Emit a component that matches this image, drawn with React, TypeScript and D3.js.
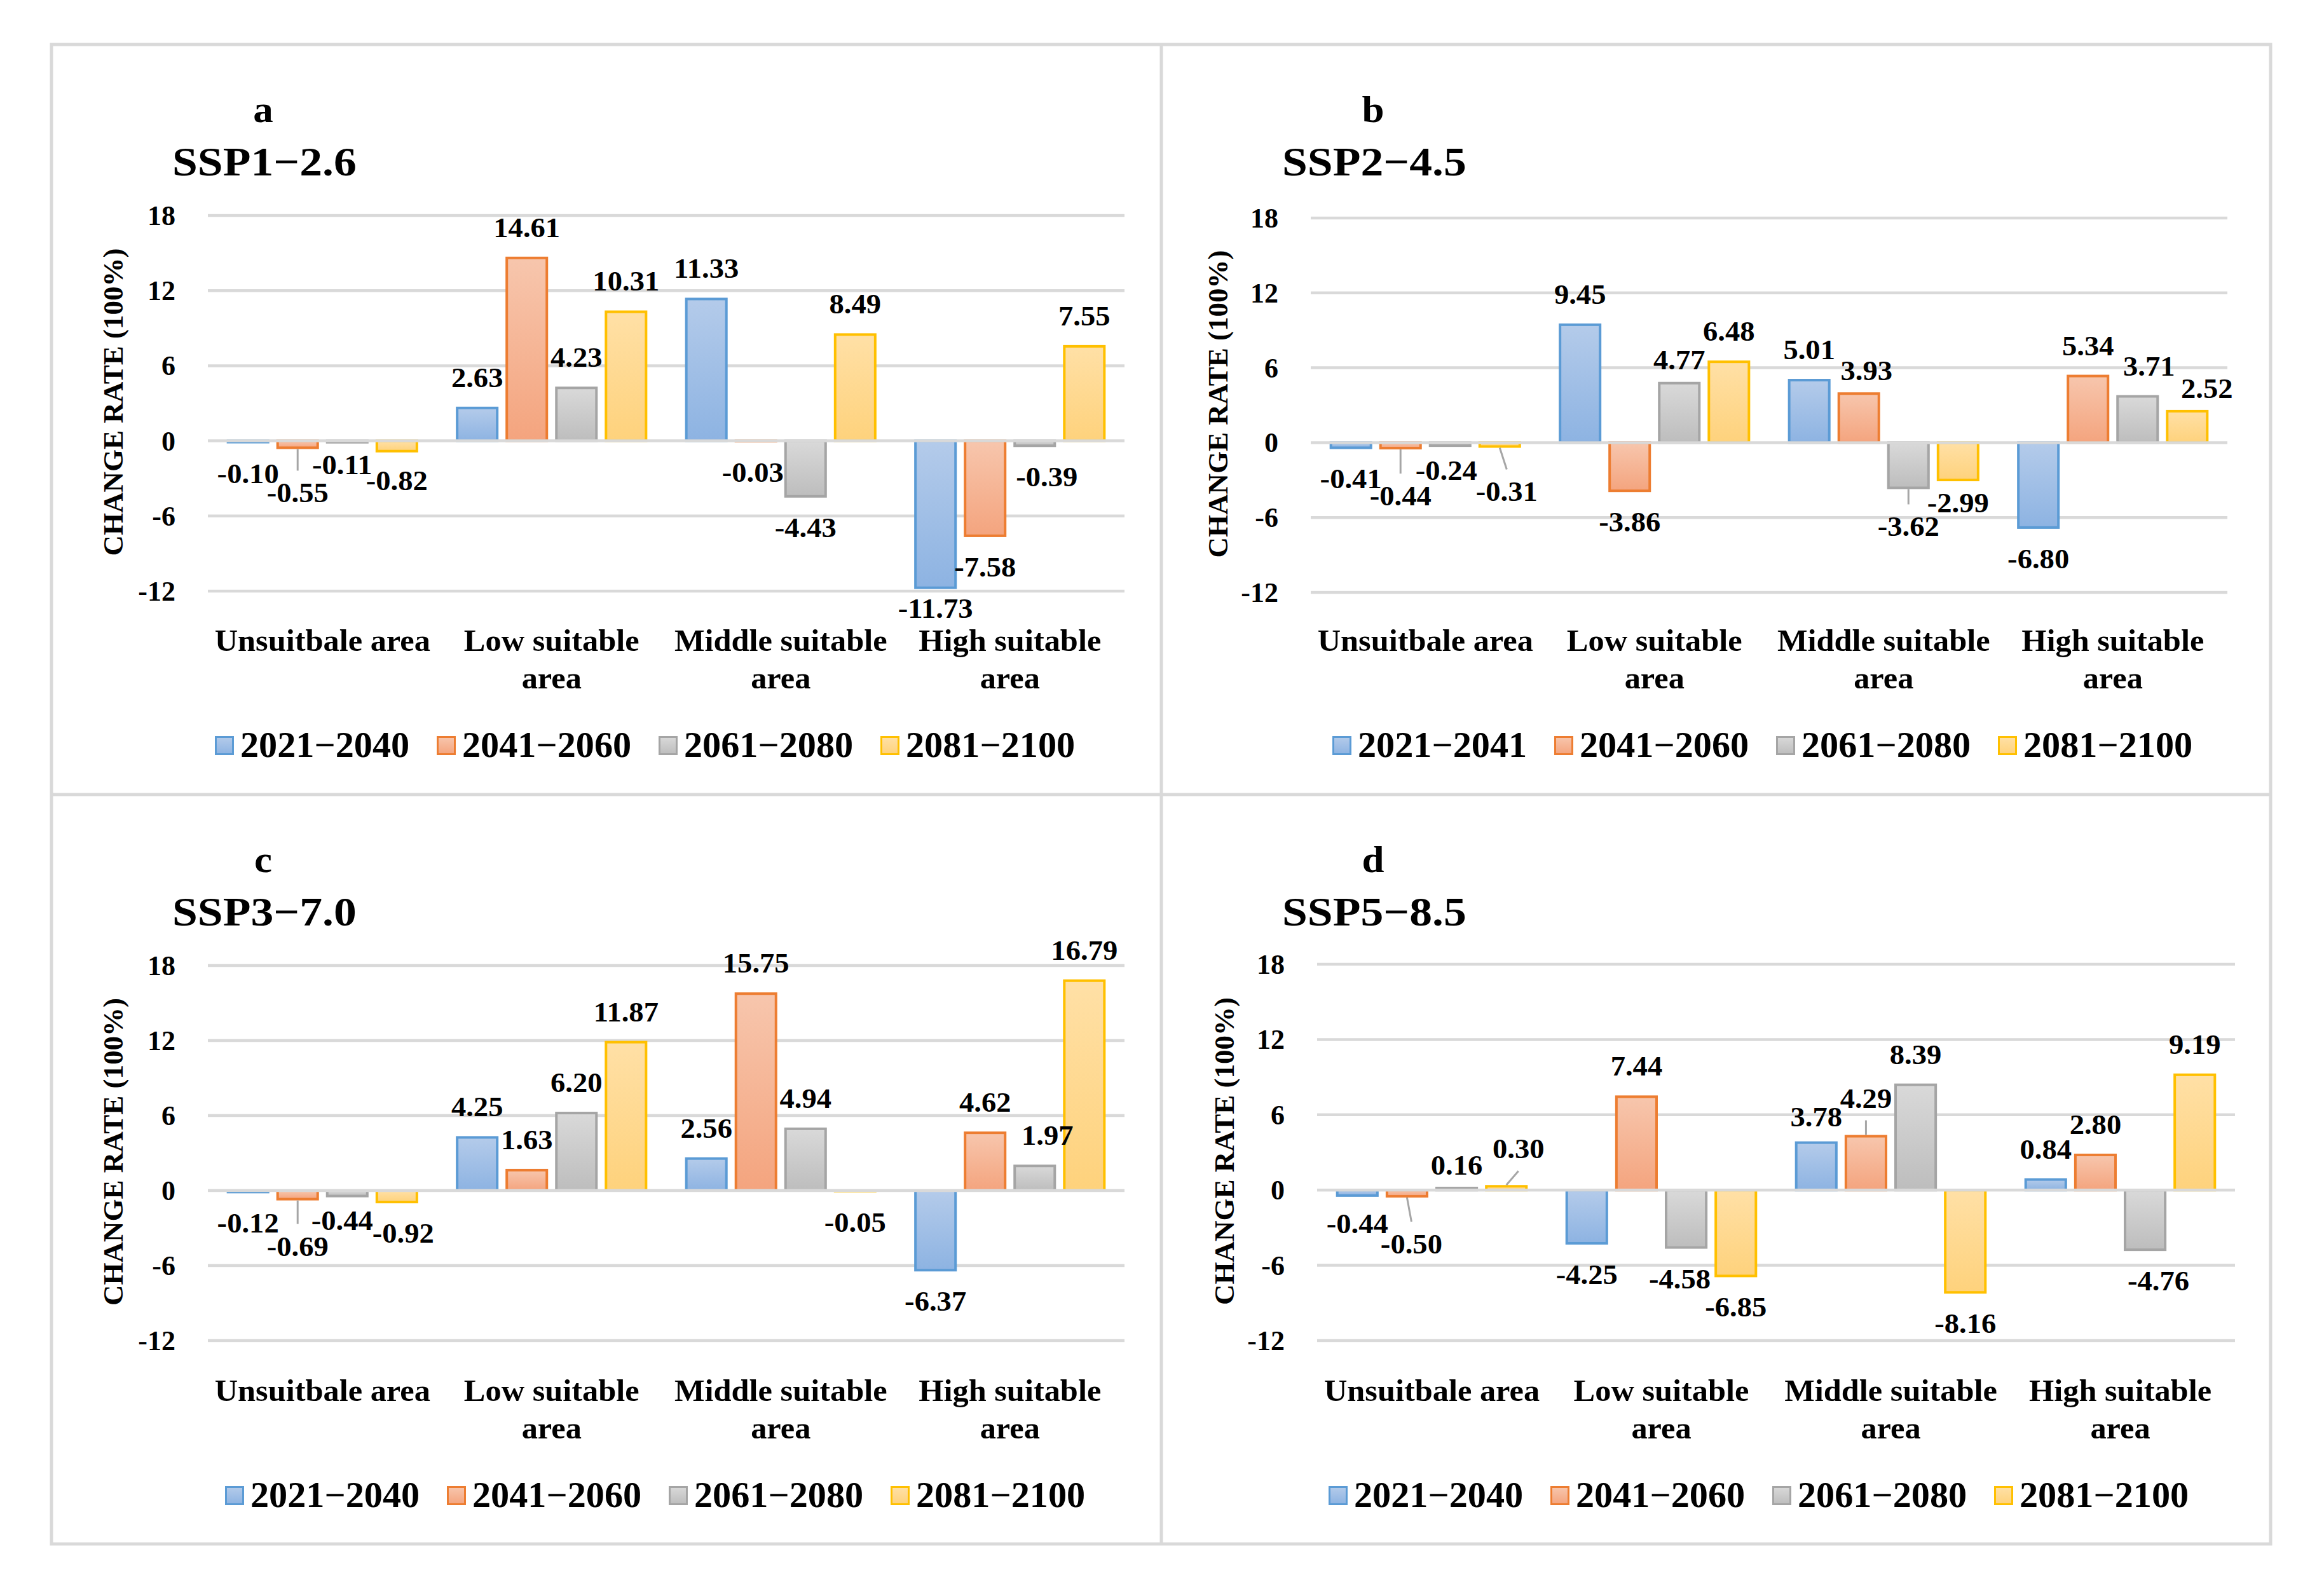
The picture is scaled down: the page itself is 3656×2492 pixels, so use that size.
import React from "react";
import * as d3 from "d3";

const W = 3656;
const H = 2492;

// ---------- data ----------
const categories = ["Unsuitbale area", "Low suitable area", "Middle suitable area", "High suitable area"];
const periods = ["2021−2040", "2041−2060", "2061−2080", "2081−2100"];
const periodsB = ["2021−2041", "2041−2060", "2061−2080", "2081−2100"];
const yTicks = [18, 12, 6, 0, -6, -12];
const panelLetters = ["a", "b", "c", "d"];
const scenarios = ["SSP1−2.6", "SSP2−4.5", "SSP3−7.0", "SSP5−8.5"];

// rows = categories, columns = periods
const ssp126 = [
  [-0.1, -0.55, -0.11, -0.82],
  [2.63, 14.61, 4.23, 10.31],
  [11.33, -0.03, -4.43, 8.49],
  [-11.73, -7.58, -0.39, 7.55],
];
const ssp245 = [
  [-0.41, -0.44, -0.24, -0.31],
  [9.45, -3.86, 4.77, 6.48],
  [5.01, 3.93, -3.62, -2.99],
  [-6.8, 5.34, 3.71, 2.52],
];
const ssp370 = [
  [-0.12, -0.69, -0.44, -0.92],
  [4.25, 1.63, 6.2, 11.87],
  [2.56, 15.75, 4.94, -0.05],
  [-6.37, 4.62, 1.97, 16.79],
];
const ssp585 = [
  [-0.44, -0.5, 0.16, 0.3],
  [-4.25, 7.44, -4.58, -6.85],
  [3.78, 4.29, 8.39, -8.16],
  [0.84, 2.8, -4.76, 9.19],
];

// ---------- styles / layout ----------
const FONT = "'Times New Roman', 'Liberation Serif', 'DejaVu Serif', serif";
const seriesColors = [
  { stroke: "#5b9bd5", top: "#b4cbea", bottom: "#8db3e2" },
  { stroke: "#ed7d31", top: "#f7c6ad", bottom: "#f4a47e" },
  { stroke: "#a5a5a5", top: "#d9d9d9", bottom: "#bdbdbd" },
  { stroke: "#ffc000", top: "#ffe0a6", bottom: "#fed27c" },
];
const GRID = "#d9d9d9";
const frame = { x0: 81, y0: 70, xm: 1827, ym: 1250, x1: 3572, y1: 2429 };
const panelOrigins = [
  [81, 70],
  [1827, 70],
  [81, 1250],
  [1827, 1250],
];
const plotBoxes = [
  { x0: 246, x1: 1688, yTop: 269, yBot: 860, yTitleX: 112 },
  { x0: 235, x1: 1677, yTop: 273, yBot: 862, yTitleX: 104 },
  { x0: 246, x1: 1688, yTop: 269, yBot: 859, yTitleX: 112 },
  { x0: 245, x1: 1689, yTop: 267, yBot: 859, yTitleX: 114 },
];
const legendStart = [257, 269, 273, 263];

// manual data-label nudges (panel-category-series): [dx, dy, leaderLine]
const labelAdjust: Record<string, number[]> = {
  "0-0-1": [0, 22, 1],
  "0-0-2": [-8, -14],
  "0-0-3": [0, -3],
  "0-2-1": [-5, 0],
  "0-3-0": [0, -17],
  "0-3-2": [19, 0],
  "1-0-1": [0, 26, 1],
  "1-0-2": [-6, -10],
  "1-0-3": [11, 22, 1],
  "1-1-2": [0, 11],
  "1-2-1": [12, 12],
  "1-2-2": [0, 12, 1],
  "1-2-3": [0, -13],
  "1-3-2": [18, 0],
  "1-3-3": [31, 12],
  "2-0-1": [0, 25, 1],
  "2-0-2": [-8, -11],
  "2-0-3": [10, 0],
  "2-3-2": [20, 0],
  "3-0-0": [0, -5],
  "3-0-1": [7, 26, 1],
  "3-0-2": [0, 12],
  "3-0-3": [19, -11, 1],
  "3-1-2": [-10, 0],
  "3-2-0": [0, 7],
  "3-2-1": [0, -12, 1],
  "3-3-2": [21, 0],
};

function T(props: {
  x: number;
  y: number;
  size: number;
  sx?: number;
  anchor?: string;
  children: React.ReactNode;
}) {
  const { x, y, size, sx = 1, anchor = "middle", children } = props;
  return (
    <text
      transform={`translate(${x},${y}) scale(${sx},1)`}
      fontSize={size}
      fontWeight="bold"
      fontFamily={FONT}
      textAnchor={anchor as any}
      fill="#000"
    >
      {children}
    </text>
  );
}

function splitLabel(c: string): string[] {
  if (c.length <= 15) return [c];
  const i = c.lastIndexOf(" ");
  return [c.slice(0, i), c.slice(i + 1)];
}

function Panel({ idx }: { idx: number }) {
  const data = [ssp126, ssp245, ssp370, ssp585][idx];
  const legend = idx === 1 ? periodsB : periods;
  const [ox, oy] = panelOrigins[idx];
  const box = plotBoxes[idx];

  const y = d3.scaleLinear().domain([-12, 18]).range([box.yBot, box.yTop]);
  const x0 = d3.scaleBand<string>().domain(categories).range([box.x0, box.x1]);
  const x1 = d3
    .scaleBand<number>()
    .domain(d3.range(4))
    .range([0, x0.bandwidth()])
    .paddingInner(0.141)
    .paddingOuter(0.38);
  const sw = 4;
  const bw = x1.bandwidth();

  const bars: React.ReactNode[] = [];
  const labels: React.ReactNode[] = [];
  const leaders: React.ReactNode[] = [];

  categories.forEach((c, ci) => {
    data[ci].forEach((v, si) => {
      const bx = (x0(c) as number) + (x1(si) as number);
      const cx = bx + bw / 2;
      const yv = y(v);
      const y0 = y(0);
      bars.push(
        <rect
          key={`b${ci}-${si}`}
          x={bx + sw / 2}
          width={bw - sw}
          y={Math.min(yv, y0)}
          height={Math.abs(yv - y0)}
          fill={`url(#grad${si})`}
          stroke={seriesColors[si].stroke}
          strokeWidth={sw}
        />
      );
      const adj = labelAdjust[`${idx}-${ci}-${si}`] || [0, 0];
      const lx = cx + adj[0];
      const base = (v >= 0 ? yv - 33 : yv + 64) + adj[1];
      labels.push(
        <T key={`l${ci}-${si}`} x={lx} y={base} size={44} sx={1.06}>
          {v.toFixed(2)}
        </T>
      );
      if (adj[2]) {
        const ly1 = v >= 0 ? yv - 2 : yv + 2;
        const ly2 = v >= 0 ? base + 20 : base - 50;
        leaders.push(
          <line key={`ld${ci}-${si}`} x1={cx} y1={ly1} x2={lx} y2={ly2} stroke="#a6a6a6" strokeWidth={3} />
        );
      }
    });
  });

  return (
    <g transform={`translate(${ox},${oy})`}>
      {/* panel letter and title */}
      <T x={333} y={122} size={60} sx={1.05}>
        {panelLetters[idx]}
      </T>
      <T x={190} y={206} size={64} sx={1.12} anchor="start">
        {scenarios[idx]}
      </T>
      {/* gridlines */}
      {yTicks
        .filter((t) => t !== 0)
        .map((t) => (
          <line key={`g${t}`} x1={box.x0} x2={box.x1} y1={y(t)} y2={y(t)} stroke={GRID} strokeWidth={4.5} />
        ))}
      {/* tick labels */}
      {yTicks.map((t) => (
        <T key={`t${t}`} x={box.x0 - 51} y={y(t) + 15} size={44} anchor="end">
          {String(t)}
        </T>
      ))}
      {/* y title */}
      <text
        transform={`translate(${box.yTitleX},${(box.yTop + box.yBot) / 2 - 2}) rotate(-90)`}
        fontSize={45}
        fontWeight="bold"
        fontFamily={FONT}
        textAnchor="middle"
        fill="#000"
      >
        CHANGE RATE (100%)
      </text>
      {bars}
      <line x1={box.x0} x2={box.x1} y1={y(0)} y2={y(0)} stroke={GRID} strokeWidth={4.5} />
      {leaders}
      {labels}
      {/* category labels */}
      {categories.map((c) => {
        const cx = (x0(c) as number) + x0.bandwidth() / 2;
        return splitLabel(c).map((ln, li) => (
          <T key={`c${c}${li}`} x={cx} y={954 + li * 59} size={48} sx={1.05}>
            {ln}
          </T>
        ));
      })}
      {/* legend */}
      {legend.map((lab, i) => {
        const lx = legendStart[idx] + i * 349;
        return (
          <g key={`lg${i}`}>
            <rect
              x={lx + 1.5}
              y={1089.5}
              width={27}
              height={27}
              fill={`url(#grad${i})`}
              stroke={seriesColors[i].stroke}
              strokeWidth={3}
            />
            <T x={lx + 40} y={1121} size={56} sx={1.04} anchor="start">
              {lab}
            </T>
          </g>
        );
      })}
    </g>
  );
}

export default function App() {
  return (
    <div style={{ width: W, height: H, overflow: "hidden" }}>
      <style>{`html,body{margin:0;padding:0;background:#fff;}`}</style>
      <svg width={W} height={H} viewBox={`0 0 ${W} ${H}`} style={{ display: "block" }}>
        <defs>
          {seriesColors.map((c, i) => (
            <linearGradient key={i} id={`grad${i}`} x1="0" y1="0" x2="0" y2="1">
              <stop offset="0%" stopColor={c.top} />
              <stop offset="100%" stopColor={c.bottom} />
            </linearGradient>
          ))}
        </defs>
        <rect x={0} y={0} width={W} height={H} fill="#fff" />
        {[0, 1, 2, 3].map((i) => (
          <Panel key={i} idx={i} />
        ))}
        <rect
          x={frame.x0}
          y={frame.y0}
          width={frame.x1 - frame.x0}
          height={frame.y1 - frame.y0}
          fill="none"
          stroke={GRID}
          strokeWidth={5}
        />
        <line x1={frame.xm} x2={frame.xm} y1={frame.y0} y2={frame.y1} stroke={GRID} strokeWidth={5} />
        <line x1={frame.x0} x2={frame.x1} y1={frame.ym} y2={frame.ym} stroke={GRID} strokeWidth={5} />
      </svg>
    </div>
  );
}
